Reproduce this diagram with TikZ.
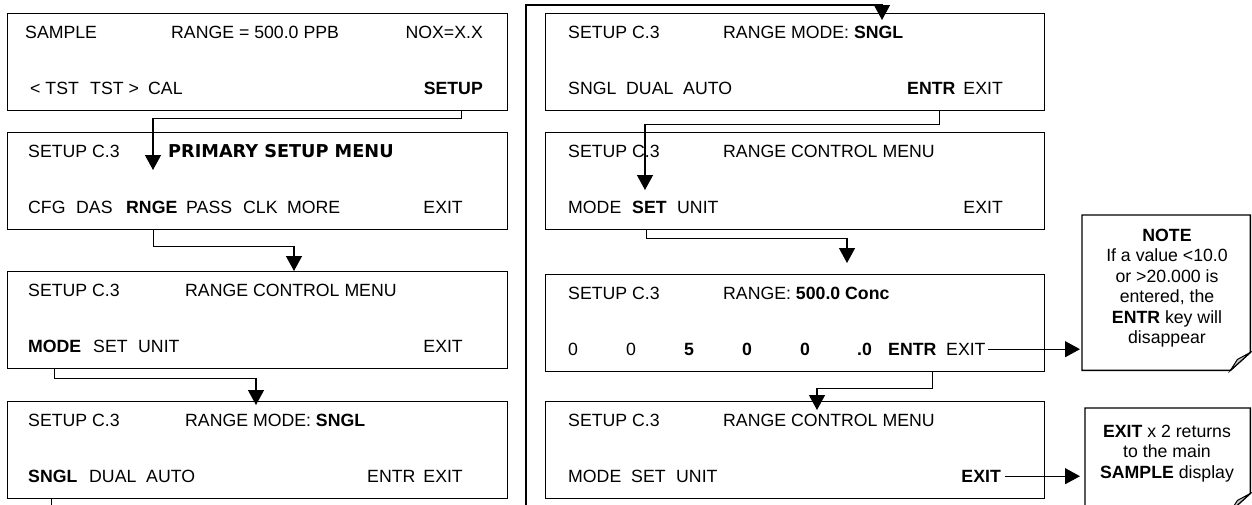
\documentclass[tikz,border=0pt]{standalone}
\usepackage{fontspec}
\setmainfont{Liberation Sans}
\newfontfamily\dvs{DejaVu Sans}
\usetikzlibrary{arrows.meta,calc}
\begin{document}
\begin{tikzpicture}[x=1pt,y=-1pt,
  screen/.style={draw,line width=1.4pt,minimum width=500pt,minimum height=97pt,anchor=north west,inner sep=0pt},
  txt/.style={inner sep=0pt,font=\fontsize{17.7}{20.5}\selectfont},
  w/.style={txt,anchor=base west},
  wr/.style={txt,anchor=base east},
  conn/.style={line width=1.3pt},
  arr/.style={conn,-{Triangle[length=15pt,width=16pt]}},
  notebox/.style={anchor=north west,inner sep=0pt},
  notetxt/.style={txt,align=center,anchor=north}]
\useasboundingbox (0,0) rectangle (1252,504);
\clip (0,0) rectangle (1252,504);
% ---------- left column ----------
\node[screen] (L1) at (7,13) {};
\node[screen] (L2) at (7,132) {};
\node[screen] (L3) at (7,271) {};
\node[screen] (L4) at (7,401) {};
% ---------- right column ----------
\node[screen,minimum width=499pt] (R1) at (545,13) {};
\node[screen,minimum width=499pt] (R2) at (545,132) {};
\node[screen,minimum width=499pt] (R3) at (545,274) {};
\node[screen,minimum width=499pt] (R4) at (545,401) {};
% L1
\node[w] (l1a) at (25,38.5) {SAMPLE};
\node[w] (l1b) at (171,38.5) {RANGE = 500.0 PPB};
\node[wr] (l1c) at (483,38.5) {NOX=X.X};
\node[w] (l1d) at (30,94.5) {< TST};
\node[w] (l1e) at (90,94.5) {TST >};
\node[w] (l1f) at (148,94.5) {CAL};
\node[wr] (setup) at (483,94.5) {\bfseries SETUP};
% L2
\node[w] (l2a) at (28,157.5) {SETUP C.3};
\node[w,font=\dvs\fontsize{17.7}{20.5}\selectfont\bfseries] (l2b) at (168,157.5) {PRIMARY SETUP MENU};
\node[w] (l2c) at (28,213.5) {CFG};
\node[w] (l2d) at (76,213.5) {DAS};
\node[w] (rnge) at (126,213.5) {\bfseries RNGE};
\node[w] (l2e) at (186,213.5) {PASS};
\node[w] (l2f) at (243,213.5) {CLK};
\node[w] (l2g) at (287,213.5) {MORE};
\node[wr] (l2h) at (463,213.5) {EXIT};
% L3
\node[w] (l3a) at (28,296.5) {SETUP C.3};
\node[w] (l3b) at (185,296.5) {RANGE CONTROL MENU};
\node[w] (mode) at (28,352.5) {\bfseries MODE};
\node[w] (l3c) at (93,352.5) {SET};
\node[w] (l3d) at (138,352.5) {UNIT};
\node[wr] (l3e) at (463,352.5) {EXIT};
% L4
\node[w] (l4a) at (28,426.5) {SETUP C.3};
\node[w] (l4b) at (185,426.5) {RANGE MODE: \textbf{SNGL}};
\node[w] (sngl) at (28,482.5) {\bfseries SNGL};
\node[w] (l4c) at (89,482.5) {DUAL};
\node[w] (l4d) at (146,482.5) {AUTO};
\node[w] (l4e) at (367,482.5) {ENTR};
\node[wr] (l4f) at (463,482.5) {EXIT};
% R1
\node[w] (r1a) at (568,38.5) {SETUP C.3};
\node[w] (r1b) at (723,38.5) {RANGE MODE: \textbf{SNGL}};
\node[w] (r1c) at (568,94.5) {SNGL};
\node[w] (r1d) at (626,94.5) {DUAL};
\node[w] (r1e) at (683,94.5) {AUTO};
\node[w] (entrA) at (907,94.5) {\bfseries ENTR};
\node[wr] (r1f) at (1003,94.5) {EXIT};
% R2
\node[w] (r2a) at (568,157.5) {SETUP C.3};
\node[w] (r2b) at (723,157.5) {RANGE CONTROL MENU};
\node[w] (r2c) at (568,213.5) {MODE};
\node[w] (setB) at (632,213.5) {\bfseries SET};
\node[w] (r2d) at (677,213.5) {UNIT};
\node[wr] (r2e) at (1003,213.5) {EXIT};
% R3
\node[w] (r3a) at (568,299.5) {SETUP C.3};
\node[w] (r3b) at (723,299.5) {RANGE: \textbf{500.0 Conc}};
\node[w] (r3c) at (568,355.5) {0};
\node[w] (r3d) at (626,355.5) {0};
\node[w] (r3e) at (684,355.5) {\bfseries 5};
\node[w] (r3f) at (742,355.5) {\bfseries 0};
\node[w] (r3g) at (800,355.5) {\bfseries 0};
\node[w] (r3h) at (857,355.5) {\bfseries .0};
\node[w] (entrC) at (888,355.5) {\bfseries ENTR};
\node[w] (exitC) at (946,355.5) {EXIT};
% R4
\node[w] (r4a) at (568,426.5) {SETUP C.3};
\node[w] (r4b) at (723,426.5) {RANGE CONTROL MENU};
\node[w] (r4c) at (568,482.5) {MODE};
\node[w] (r4d) at (631,482.5) {SET};
\node[w] (r4e) at (676,482.5) {UNIT};
\node[wr] (exitD) at (1001,482.5) {\bfseries EXIT};
% ---------- notes ----------
\node[notebox,minimum width=168pt,minimum height=155pt] (N1) at (1082,215) {};
\draw[line width=1.4pt] (N1.north west) -- (N1.north east) -- ([yshift=18pt]N1.south east)
  -- ([xshift=-20pt]N1.south east) -- (N1.south west) -- cycle;
\filldraw[line width=1pt,fill=gray!45] ([xshift=-20pt]N1.south east) -- ([yshift=18pt]N1.south east)
  -- ([xshift=-13pt,yshift=11pt]N1.south east) -- cycle;
\node[notetxt] (N1t) at (1167,228.6) {\textbf{NOTE}\\If a value <10.0\\or >20.000 is\\entered, the\\\textbf{ENTR} key will\\disappear};
\node[notebox,minimum width=165pt,minimum height=103pt] (N2) at (1085,408) {};
\draw[line width=1.4pt] (N2.north west) -- (N2.north east) -- ([yshift=18pt]N2.south east)
  -- ([xshift=-20pt]N2.south east) -- (N2.south west) -- cycle;
\filldraw[line width=1pt,fill=gray!45] ([xshift=-20pt]N2.south east) -- ([yshift=18pt]N2.south east)
  -- ([xshift=-13pt,yshift=11pt]N2.south east) -- cycle;
\node[notetxt] (N2t) at (1167,424.9) {\textbf{EXIT} x 2 returns\\to the main\\\textbf{SAMPLE} display};
% ---------- connectors ----------
\coordinate (t1) at (153,170);
\coordinate (t2) at (294,271);
\coordinate (t3) at (256,405);
\coordinate (b4) at (526,5);
\coordinate (t4) at (882,20);
\coordinate (t5) at (645,190);
\coordinate (t6) at (847,263);
\coordinate (t7) at (817,410);
\draw[arr] ([xshift=8pt]setup.south |- L1.south) -- ++(0,7) -| (t1);
\draw[arr] ([xshift=2pt]rnge.south |- L2.south) -- ++(0,16) -| (t2);
\draw[arr] (mode.south |- L3.south) -- ++(0,9) -| (t3);
\draw[arr] ([xshift=-1pt]sngl.south |- L4.south) -- ++(0,30) -| (b4) -| (t4);
\draw[arr] ([xshift=8pt]entrA.south |- R1.south) -- ++(0,13) -| (t5);
\draw[arr] ([xshift=-3pt]setB.south |- R2.south) -- ++(0,8) -| (t6);
\draw[arr] ([xshift=20pt]entrC.south |- R3.south) -- ++(0,16) -| (t7);
\draw[arr] ([xshift=2pt,yshift=6.3pt]exitC.base east) -- ([xshift=-2pt,yshift=6.3pt]exitC.base -| N1.west);
\draw[arr] ([xshift=4pt,yshift=6.3pt]exitD.base east) -- ([xshift=-5pt,yshift=6.3pt]exitD.base -| N2.west);
\end{tikzpicture}
\end{document}
